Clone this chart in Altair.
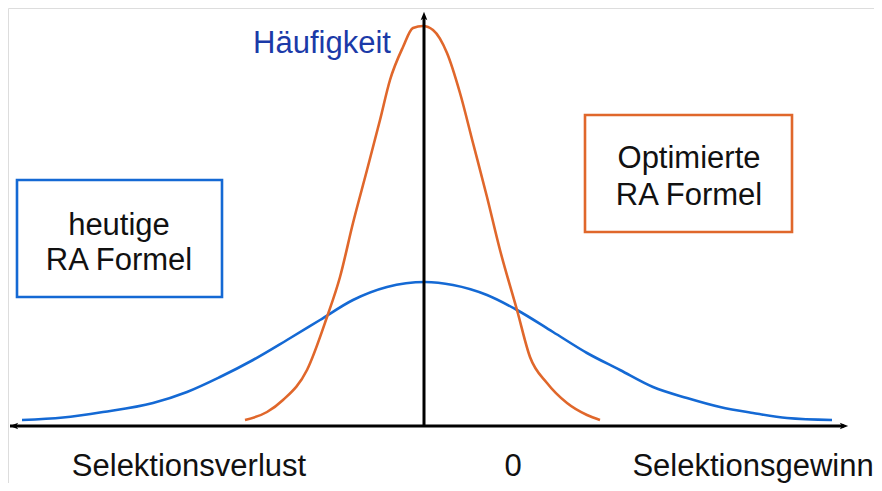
import altair as alt
import pandas as pd

# Curve points (x relative to the vertical axis, y = height above the horizontal axis)
blue_x = [-403, -362, -322, -272, -238, -205, -172, -138, -105, -72, -38, 0,
          28, 62, 92, 128, 162, 195, 228, 262, 295, 328, 362, 407]
blue_y = [7, 9.5, 15, 24, 35, 50, 67, 87, 107, 127, 140, 145,
          142, 132, 117, 95, 74, 57, 40, 29, 20, 14, 9, 7]

orange_x = [-180, -158, -142, -118, -98, -85, -72, -58, -45, -35, -22, -12, -2,
            8, 22, 35, 48, 62, 75, 92, 105, 122, 142, 162, 175]
orange_y = [7, 15, 27, 57, 110, 150, 204, 257, 307, 347, 380, 399, 401,
            397, 374, 334, 284, 230, 177, 117, 70, 44, 24, 12, 7]

labels = ["Häufigkeit", "heutige", "RA Formel", "Optimierte", "RA Formel",
          "Selektionsverlust", "0", "Selektionsgewinn"]
label_x = [-103, -306, -306, 264, 264, -236, 88, 328]
label_y = [374, 192, 157, 259, 222, -49, -49, -49]
label_color = ["#1b3aa8", "#111111", "#111111", "#111111", "#111111",
               "#111111", "#111111", "#111111"]

box_names = ["heutige", "Optimierte"]
box_x = [-408, 160]
box_x2 = [-203, 367]
box_y = [247, 312]
box_y2 = [130, 195]
box_color = ["#1469d4", "#e0672b"]

BLUE = "#1469d4"
ORANGE = "#e0672b"

xs = alt.Scale(domain=[-417, 449], nice=False, zero=False)
ys = alt.Scale(domain=[-56, 419], nice=False, zero=False)

blue_df = pd.DataFrame({"x": blue_x, "y": blue_y})
orange_df = pd.DataFrame({"x": orange_x, "y": orange_y})
label_df = pd.DataFrame({"t": labels, "x": label_x, "y": label_y, "c": label_color})
box_df = pd.DataFrame({"n": box_names, "x": box_x, "x2": box_x2, "y": box_y,
                       "y2": box_y2, "c": box_color})
axis_h = pd.DataFrame({"x": [-415], "x2": [419], "y": [1]})
axis_v = pd.DataFrame({"x": [-1], "y": [1], "y2": [409]})
arrows = pd.DataFrame({"x": [-411, 419, -1], "y": [1, 1, 411],
                       "d": ["l", "r", "u"]})

blue_line = alt.Chart(blue_df).mark_line(color=BLUE, strokeWidth=2.6,
                                         interpolate="monotone").encode(
    x=alt.X("x:Q", scale=xs, axis=None), y=alt.Y("y:Q", scale=ys, axis=None))
orange_line = alt.Chart(orange_df).mark_line(color=ORANGE, strokeWidth=2.6,
                                             interpolate="monotone").encode(
    x=alt.X("x:Q", scale=xs, axis=None), y=alt.Y("y:Q", scale=ys, axis=None))

hline = alt.Chart(axis_h).mark_rule(color="black", strokeWidth=3).encode(
    x=alt.X("x:Q", scale=xs, axis=None), x2="x2:Q",
    y=alt.Y("y:Q", scale=ys, axis=None))
vline = alt.Chart(axis_v).mark_rule(color="black", strokeWidth=3).encode(
    x=alt.X("x:Q", scale=xs, axis=None),
    y=alt.Y("y:Q", scale=ys, axis=None), y2="y2:Q")

arrow_l = alt.Chart(arrows[arrows.d == "l"]).mark_point(
    shape="M -1 0 L 1 -0.8 L 0.5 0 L 1 0.8 Z", filled=True, color="black",
    opacity=1, size=70).encode(x=alt.X("x:Q", scale=xs, axis=None),
                               y=alt.Y("y:Q", scale=ys, axis=None))
arrow_r = alt.Chart(arrows[arrows.d == "r"]).mark_point(
    shape="M 1 0 L -1 -0.8 L -0.5 0 L -1 0.8 Z", filled=True, color="black",
    opacity=1, size=70).encode(x=alt.X("x:Q", scale=xs, axis=None),
                               y=alt.Y("y:Q", scale=ys, axis=None))
arrow_u = alt.Chart(arrows[arrows.d == "u"]).mark_point(
    shape="M 0 -1 L -0.8 1 L 0 0.5 L 0.8 1 Z", filled=True, color="black",
    opacity=1, size=70).encode(x=alt.X("x:Q", scale=xs, axis=None),
                               y=alt.Y("y:Q", scale=ys, axis=None))

boxes = alt.Chart(box_df).mark_rect(fill="white", strokeWidth=2.6).encode(
    x=alt.X("x:Q", scale=xs, axis=None), x2="x2:Q",
    y=alt.Y("y:Q", scale=ys, axis=None), y2="y2:Q",
    stroke=alt.Stroke("c:N", scale=None))

texts = alt.Chart(label_df).mark_text(font="Liberation Sans", fontSize=31,
                                      align="center", baseline="alphabetic").encode(
    x=alt.X("x:Q", scale=xs, axis=None), y=alt.Y("y:Q", scale=ys, axis=None),
    text="t:N", color=alt.Color("c:N", scale=None))

chart = alt.layer(boxes, blue_line, orange_line, hline, vline,
                  arrow_l, arrow_r, arrow_u, texts).properties(
    width=866, height=475, padding=0,
    autosize=alt.AutoSizeParams(type="none")
).configure_view(stroke=None).configure(background="white")

chart.save("out.html", embed_options={"renderer": "svg", "actions": False})
